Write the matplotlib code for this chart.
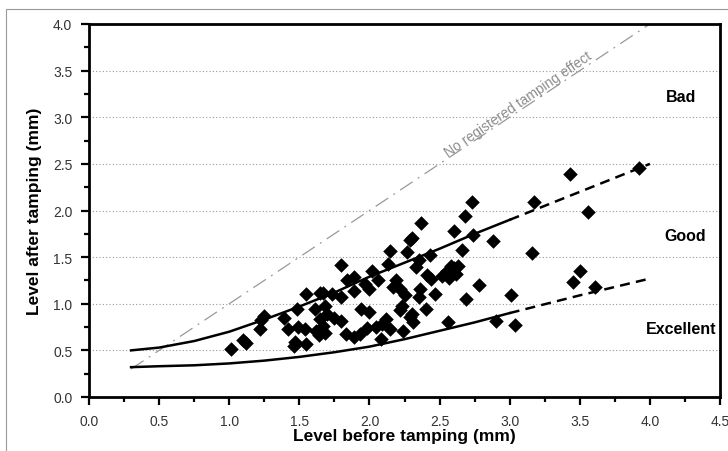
import numpy as np
import matplotlib
matplotlib.use("Agg")
import matplotlib.pyplot as plt
from matplotlib.ticker import MultipleLocator
from matplotlib.patches import Rectangle

plt.rcParams['font.family'] = ['Liberation Sans', 'DejaVu Sans']

# measured levels before / after tamping (mm)
before = [3.92, 3.43, 3.56, 3.17, 3.16, 3.50, 3.45, 3.61, 3.01, 3.04, 2.90,
          2.88, 2.73, 2.68, 2.37, 2.60, 2.74, 2.30, 2.66, 2.43, 2.35, 2.33,
          2.55, 2.60, 2.62, 2.57, 2.52, 2.63, 2.58, 2.41, 2.44, 2.78, 2.36,
          2.47, 2.35, 2.69, 2.40, 2.30, 2.31, 2.56,
          2.15, 2.27, 2.29, 1.80, 2.13, 2.02, 1.89, 1.84, 2.06, 1.97, 1.89,
          2.00, 2.19, 2.22, 2.17, 2.25, 1.67, 1.73, 1.80, 1.68, 2.23, 2.29,
          2.22, 1.94, 2.00, 1.70, 1.75, 1.80, 1.67, 1.65, 1.83, 1.89, 1.93,
          1.98, 2.05, 2.09, 2.12, 2.08, 2.15, 1.68, 2.24,
          1.55, 1.65, 1.61, 1.48, 1.25, 1.23, 1.39, 1.22, 1.42, 1.49, 1.54,
          1.62, 1.10, 1.12, 1.01, 1.46, 1.47, 1.55, 1.64]
after = [2.46, 2.39, 1.98, 2.09, 1.54, 1.35, 1.23, 1.18, 1.09, 0.77, 0.82,
         1.67, 2.09, 1.94, 1.87, 1.78, 1.74, 1.71, 1.58, 1.52, 1.47, 1.39,
         1.35, 1.38, 1.32, 1.28, 1.30, 1.40, 1.40, 1.31, 1.27, 1.20, 1.16,
         1.10, 1.07, 1.05, 0.94, 0.89, 0.80, 0.80,
         1.57, 1.55, 1.68, 1.42, 1.43, 1.35, 1.29, 1.25, 1.26, 1.21, 1.14,
         1.16, 1.25, 1.16, 1.18, 1.09, 1.12, 1.10, 1.07, 0.98, 0.98, 0.86,
         0.93, 0.94, 0.91, 0.89, 0.85, 0.82, 0.76, 0.84, 0.68, 0.64, 0.68,
         0.74, 0.75, 0.78, 0.84, 0.62, 0.73, 0.69, 0.71,
         1.10, 1.12, 0.94, 0.94, 0.87, 0.83, 0.85, 0.73, 0.73, 0.75, 0.73,
         0.71, 0.61, 0.58, 0.51, 0.55, 0.59, 0.57, 0.66]

# limit curves: solid part up to 3.0 mm, dashed extrapolation beyond
good_x = [0.3, 0.5, 0.75, 1.0, 1.25, 1.5, 1.75, 2.0, 2.25, 2.5, 2.75, 3.0]
good_y = [0.50, 0.53, 0.60, 0.70, 0.83, 0.97, 1.12, 1.29, 1.44, 1.59, 1.75, 1.90]
good_ext_x = [3.0, 3.5, 4.0]
good_ext_y = [1.90, 2.20, 2.50]
exc_x = [0.3, 0.5, 0.75, 1.0, 1.25, 1.5, 1.75, 2.0, 2.25, 2.5, 2.75, 3.0]
exc_y = [0.32, 0.33, 0.34, 0.36, 0.39, 0.43, 0.48, 0.54, 0.62, 0.71, 0.80, 0.90]
exc_ext_x = [3.0, 3.5, 4.0]
exc_ext_y = [0.90, 1.09, 1.27]
noeffect_x = [0.3, 4.0]

fig = plt.figure(figsize=(7.28, 4.52), dpi=100)
ax = fig.add_axes([89/728, 54/452, 631/728, 373/452])

# thin grey frame round the figure
fig.patches.append(Rectangle((6/728, -0.1), 1.2, 1.1 - 10/452, transform=fig.transFigure,
                             fill=False, edgecolor='#999999', linewidth=0.8))

ax.plot(noeffect_x, noeffect_x, color='#999999', linewidth=0.9,
        dashes=(12, 5, 1.5, 5), zorder=2)
ax.plot(good_x, good_y, color='black', linewidth=1.8, zorder=3)
ax.plot(good_ext_x, good_ext_y, color='black', linewidth=1.8, dashes=(4, 2.5), zorder=3)
ax.plot(exc_x, exc_y, color='black', linewidth=1.8, zorder=3)
ax.plot(exc_ext_x, exc_ext_y, color='black', linewidth=1.8, dashes=(4, 2.5), zorder=3)
ax.scatter(before, after, marker='D', s=55, color='black', linewidths=0, zorder=4)

ax.text(3.06, 3.15, 'No registered tamping effect', rotation=34.5, color='#8c8c8c',
        fontsize=10, ha='center', va='center', rotation_mode='anchor')
ax.text(4.22, 3.22, 'Bad', fontsize=11.5, fontweight='bold', ha='center', va='center')
ax.text(4.25, 1.73, 'Good', fontsize=11.5, fontweight='bold', ha='center', va='center')
ax.text(4.22, 0.73, 'Excellent', fontsize=11.5, fontweight='bold', ha='center', va='center')

ax.set_xlim(0, 4.5)
ax.set_ylim(0, 4.0)
ax.xaxis.set_major_locator(MultipleLocator(0.5))
ax.xaxis.set_minor_locator(MultipleLocator(0.25))
ax.yaxis.set_major_locator(MultipleLocator(0.5))
ax.yaxis.set_minor_locator(MultipleLocator(0.25))
ax.xaxis.set_major_formatter(matplotlib.ticker.FormatStrFormatter('%.1f'))
ax.yaxis.set_major_formatter(matplotlib.ticker.FormatStrFormatter('%.1f'))
ax.tick_params(which='major', direction='out', length=6, width=1.6,
               labelsize=10, labelcolor='#333333', pad=6)
ax.tick_params(which='minor', direction='out', length=3.5, width=1.6)
for sp in ax.spines.values():
    sp.set_linewidth(2)

ax.grid(axis='y', which='major', linestyle=(0, (1, 2)), color='#999999', linewidth=0.8)
ax.set_axisbelow(True)

ax.set_xlabel('Level before tamping (mm)', fontsize=12.5, fontweight='bold', labelpad=0)
ax.set_ylabel('Level after tamping (mm)', fontsize=12.5, fontweight='bold', labelpad=8)

fig.savefig('out.png', dpi=100)
